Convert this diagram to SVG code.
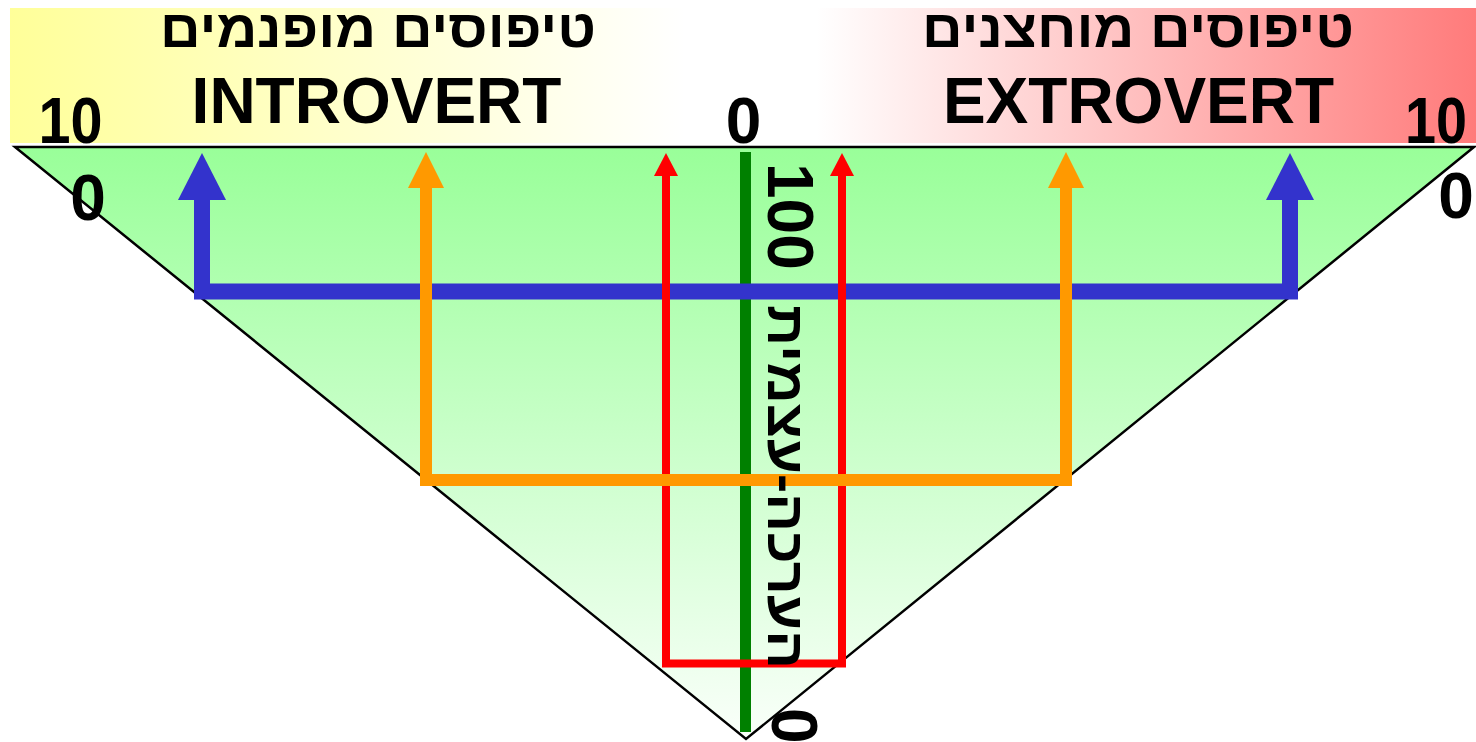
<svg xmlns="http://www.w3.org/2000/svg" width="1476" height="742" viewBox="0 0 1476 742">
<style>
text{font-family:"Liberation Sans","DejaVu Sans","Noto Sans",sans-serif;font-weight:bold;fill:#000}
.big{font-size:64px}
.heb{font-size:53px;text-anchor:middle}
.vheb{font-size:53px}
.lbl{font-size:64px;text-anchor:middle}
</style>
<defs>
<linearGradient id="bar" x1="0" y1="0" x2="1" y2="0">
<stop offset="0" stop-color="#FFFF99"/>
<stop offset="0.46" stop-color="#FFFFFF"/>
<stop offset="0.55" stop-color="#FFFFFF"/>
<stop offset="1" stop-color="#FF7B7B"/>
</linearGradient>
<linearGradient id="tri" x1="0" y1="0" x2="0" y2="1">
<stop offset="0" stop-color="#99FF99"/>
<stop offset="1" stop-color="#FAFFFA"/>
</linearGradient>
<marker id="hb" markerUnits="userSpaceOnUse" viewBox="0 -24 47 48" refX="0" refY="0" markerWidth="47" markerHeight="48" orient="auto-start-reverse"><path d="M0,-24L47,0L0,24z" fill="#3333CC"/></marker>
<marker id="ho" markerUnits="userSpaceOnUse" viewBox="0 -18 36 36" refX="0" refY="0" markerWidth="36" markerHeight="36" orient="auto-start-reverse"><path d="M0,-18L36,0L0,18z" fill="#FF9900"/></marker>
<marker id="hr" markerUnits="userSpaceOnUse" viewBox="0 -12 23 24" refX="0" refY="0" markerWidth="23" markerHeight="24" orient="auto-start-reverse"><path d="M0,-12L23,0L0,12z" fill="#FF0000"/></marker>
</defs>
<g id="header">
<rect x="10" y="8" width="1466" height="135" fill="url(#bar)"/>
<text class="heb" x="378" y="47" textLength="436" lengthAdjust="spacingAndGlyphs">טיפוסים מופנמים</text>
<text class="lbl" x="376.5" y="123">INTROVERT</text>
<text class="heb" x="1138" y="47" textLength="432" lengthAdjust="spacingAndGlyphs">טיפוסים מוחצנים</text>
<text class="lbl" x="1138.5" y="123">EXTROVERT</text>
<text class="lbl" x="70.5" y="143" textLength="64" lengthAdjust="spacingAndGlyphs">10</text>
<text class="lbl" x="743.5" y="143">0</text>
<text class="lbl" x="1436" y="143" textLength="62" lengthAdjust="spacingAndGlyphs">10</text>
</g>
<g id="triangle">
<polygon points="15,147 1474,147 746,739" fill="url(#tri)" stroke="#000" stroke-width="2.5" stroke-linejoin="miter"/>
<text class="lbl" x="88" y="220">0</text>
<text class="lbl" x="1456" y="218">0</text>
</g>
<g id="connectors" fill="none" stroke-linejoin="miter">
<line id="axis" x1="745.5" y1="152" x2="745.5" y2="732" stroke="#008000" stroke-width="11"/>
<path id="blue" d="M202,200L202,291.5L1290,291.5L1290,200" stroke="#3333CC" stroke-width="16" marker-start="url(#hb)" marker-end="url(#hb)"/>
<path id="red" d="M666,176L666,663.5L842,663.5L842,176" stroke="#FF0000" stroke-width="8" marker-start="url(#hr)" marker-end="url(#hr)"/>
<path id="orange" d="M426,188L426,480L1066,480L1066,188" stroke="#FF9900" stroke-width="12" marker-start="url(#ho)" marker-end="url(#ho)"/>
</g>
<g id="axis-label">
<text class="big" transform="translate(768,163) rotate(90)">100</text>
<text class="vheb" transform="translate(768,305) rotate(90)" textLength="364" lengthAdjust="spacingAndGlyphs">הערכה-עצמית</text>
<text class="big" transform="translate(772,708) rotate(90)">0</text>
</g>
</svg>
